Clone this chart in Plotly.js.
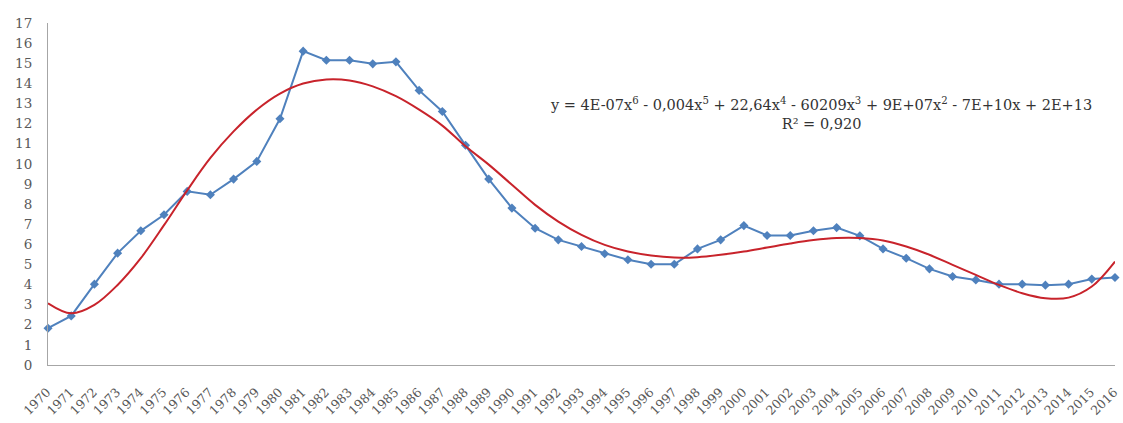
<!DOCTYPE html>
<html>
<head>
<meta charset="utf-8">
<script src="https://cdn.plot.ly/plotly-3.0.1.min.js"></script>
<style>html,body{margin:0;padding:0;background:#fff;}#chart{width:1123px;height:423px;}</style>
</head>
<body>
<div id="chart"></div>
<script>
var years = [1970,1971,1972,1973,1974,1975,1976,1977,1978,1979,1980,1981,1982,1983,1984,1985,1986,1987,1988,1989,1990,1991,1992,1993,1994,1995,1996,1997,1998,1999,2000,2001,2002,2003,2004,2005,2006,2007,2008,2009,2010,2011,2012,2013,2014,2015,2016];
var values = [1.83,2.44,4.02,5.56,6.67,7.47,8.63,8.46,9.24,10.12,12.24,15.6,15.15,15.15,14.97,15.07,13.65,12.6,10.92,9.24,7.8,6.8,6.22,5.89,5.53,5.23,5.01,5.01,5.77,6.22,6.93,6.44,6.44,6.67,6.83,6.42,5.77,5.31,4.78,4.4,4.23,4.02,4.02,3.97,4.02,4.27,4.35];
var trendValues = [3.07,2.57,2.99,3.98,5.31,6.95,8.68,10.29,11.61,12.69,13.49,13.99,14.19,14.14,13.85,13.36,12.69,11.9,10.87,9.96,8.96,7.96,7.13,6.47,5.97,5.64,5.44,5.34,5.36,5.48,5.64,5.84,6.04,6.21,6.31,6.31,6.19,5.89,5.48,4.98,4.48,3.98,3.57,3.32,3.35,3.9,5.14];
var yTicks = [0,1,2,3,4,5,6,7,8,9,10,11,12,13,14,15,16,17];
var equationText = 'y = 4E-07x<sup>6</sup> - 0,004x<sup>5</sup> + 22,64x<sup>4</sup> - 60209x<sup>3</sup> + 9E+07x<sup>2</sup> - 7E+10x + 2E+13';
var r2Text = 'R² = 0,920';

var serif = 'DejaVu Serif, Liberation Serif, serif';

var traces = [
  {x: years, y: values, type: 'scatter', mode: 'lines+markers',
   line: {color: '#4F81BD', width: 2},
   marker: {symbol: 'diamond', size: 7, color: '#4F81BD'},
   hoverinfo: 'x+y', showlegend: false, cliponaxis: false},
  {x: years, y: trendValues, type: 'scatter', mode: 'lines',
   line: {color: '#C8232B', width: 2, shape: 'spline', smoothing: 1.0},
   hoverinfo: 'skip', showlegend: false, cliponaxis: false}
];

var layout = {
  width: 1123, height: 423,
  margin: {l: 48, r: 8, t: 23, b: 58},
  paper_bgcolor: '#ffffff', plot_bgcolor: '#ffffff',
  font: {family: serif, size: 13, color: '#595959'},
  xaxis: {
    range: [1969.999, 2016.001], tickmode: 'array', tickvals: years, ticktext: years.map(String),
    tickangle: -45, showgrid: false, zeroline: false, showline: true,
    linecolor: '#A6A6A6', linewidth: 1, ticks: 'outside', ticklen: 14, tickcolor: 'rgba(0,0,0,0)',
    ticklabeloverflow: 'allow', ticklabelshift: -1,
    tickfont: {family: serif, size: 12.5, color: '#595959'}, automargin: false
  },
  yaxis: {
    range: [0, 17], tickmode: 'array', tickvals: yTicks, showgrid: false, zeroline: false,
    showline: true, linecolor: '#A6A6A6', linewidth: 1, ticks: 'outside', ticklen: 12,
    tickcolor: 'rgba(0,0,0,0)',
    tickfont: {family: serif, size: 13.5, color: '#595959'}, automargin: false
  },
  annotations: [
    {xref: 'paper', yref: 'paper', x: 0.724, y: 0.735, text: equationText + '<br>' + r2Text,
     showarrow: false, align: 'center', xanchor: 'center', yanchor: 'middle',
     font: {family: serif, size: 14.5, color: '#333'}}
  ]
};

Plotly.newPlot('chart', traces, layout, {displayModeBar: false, staticPlot: true});
</script>
</body>
</html>
